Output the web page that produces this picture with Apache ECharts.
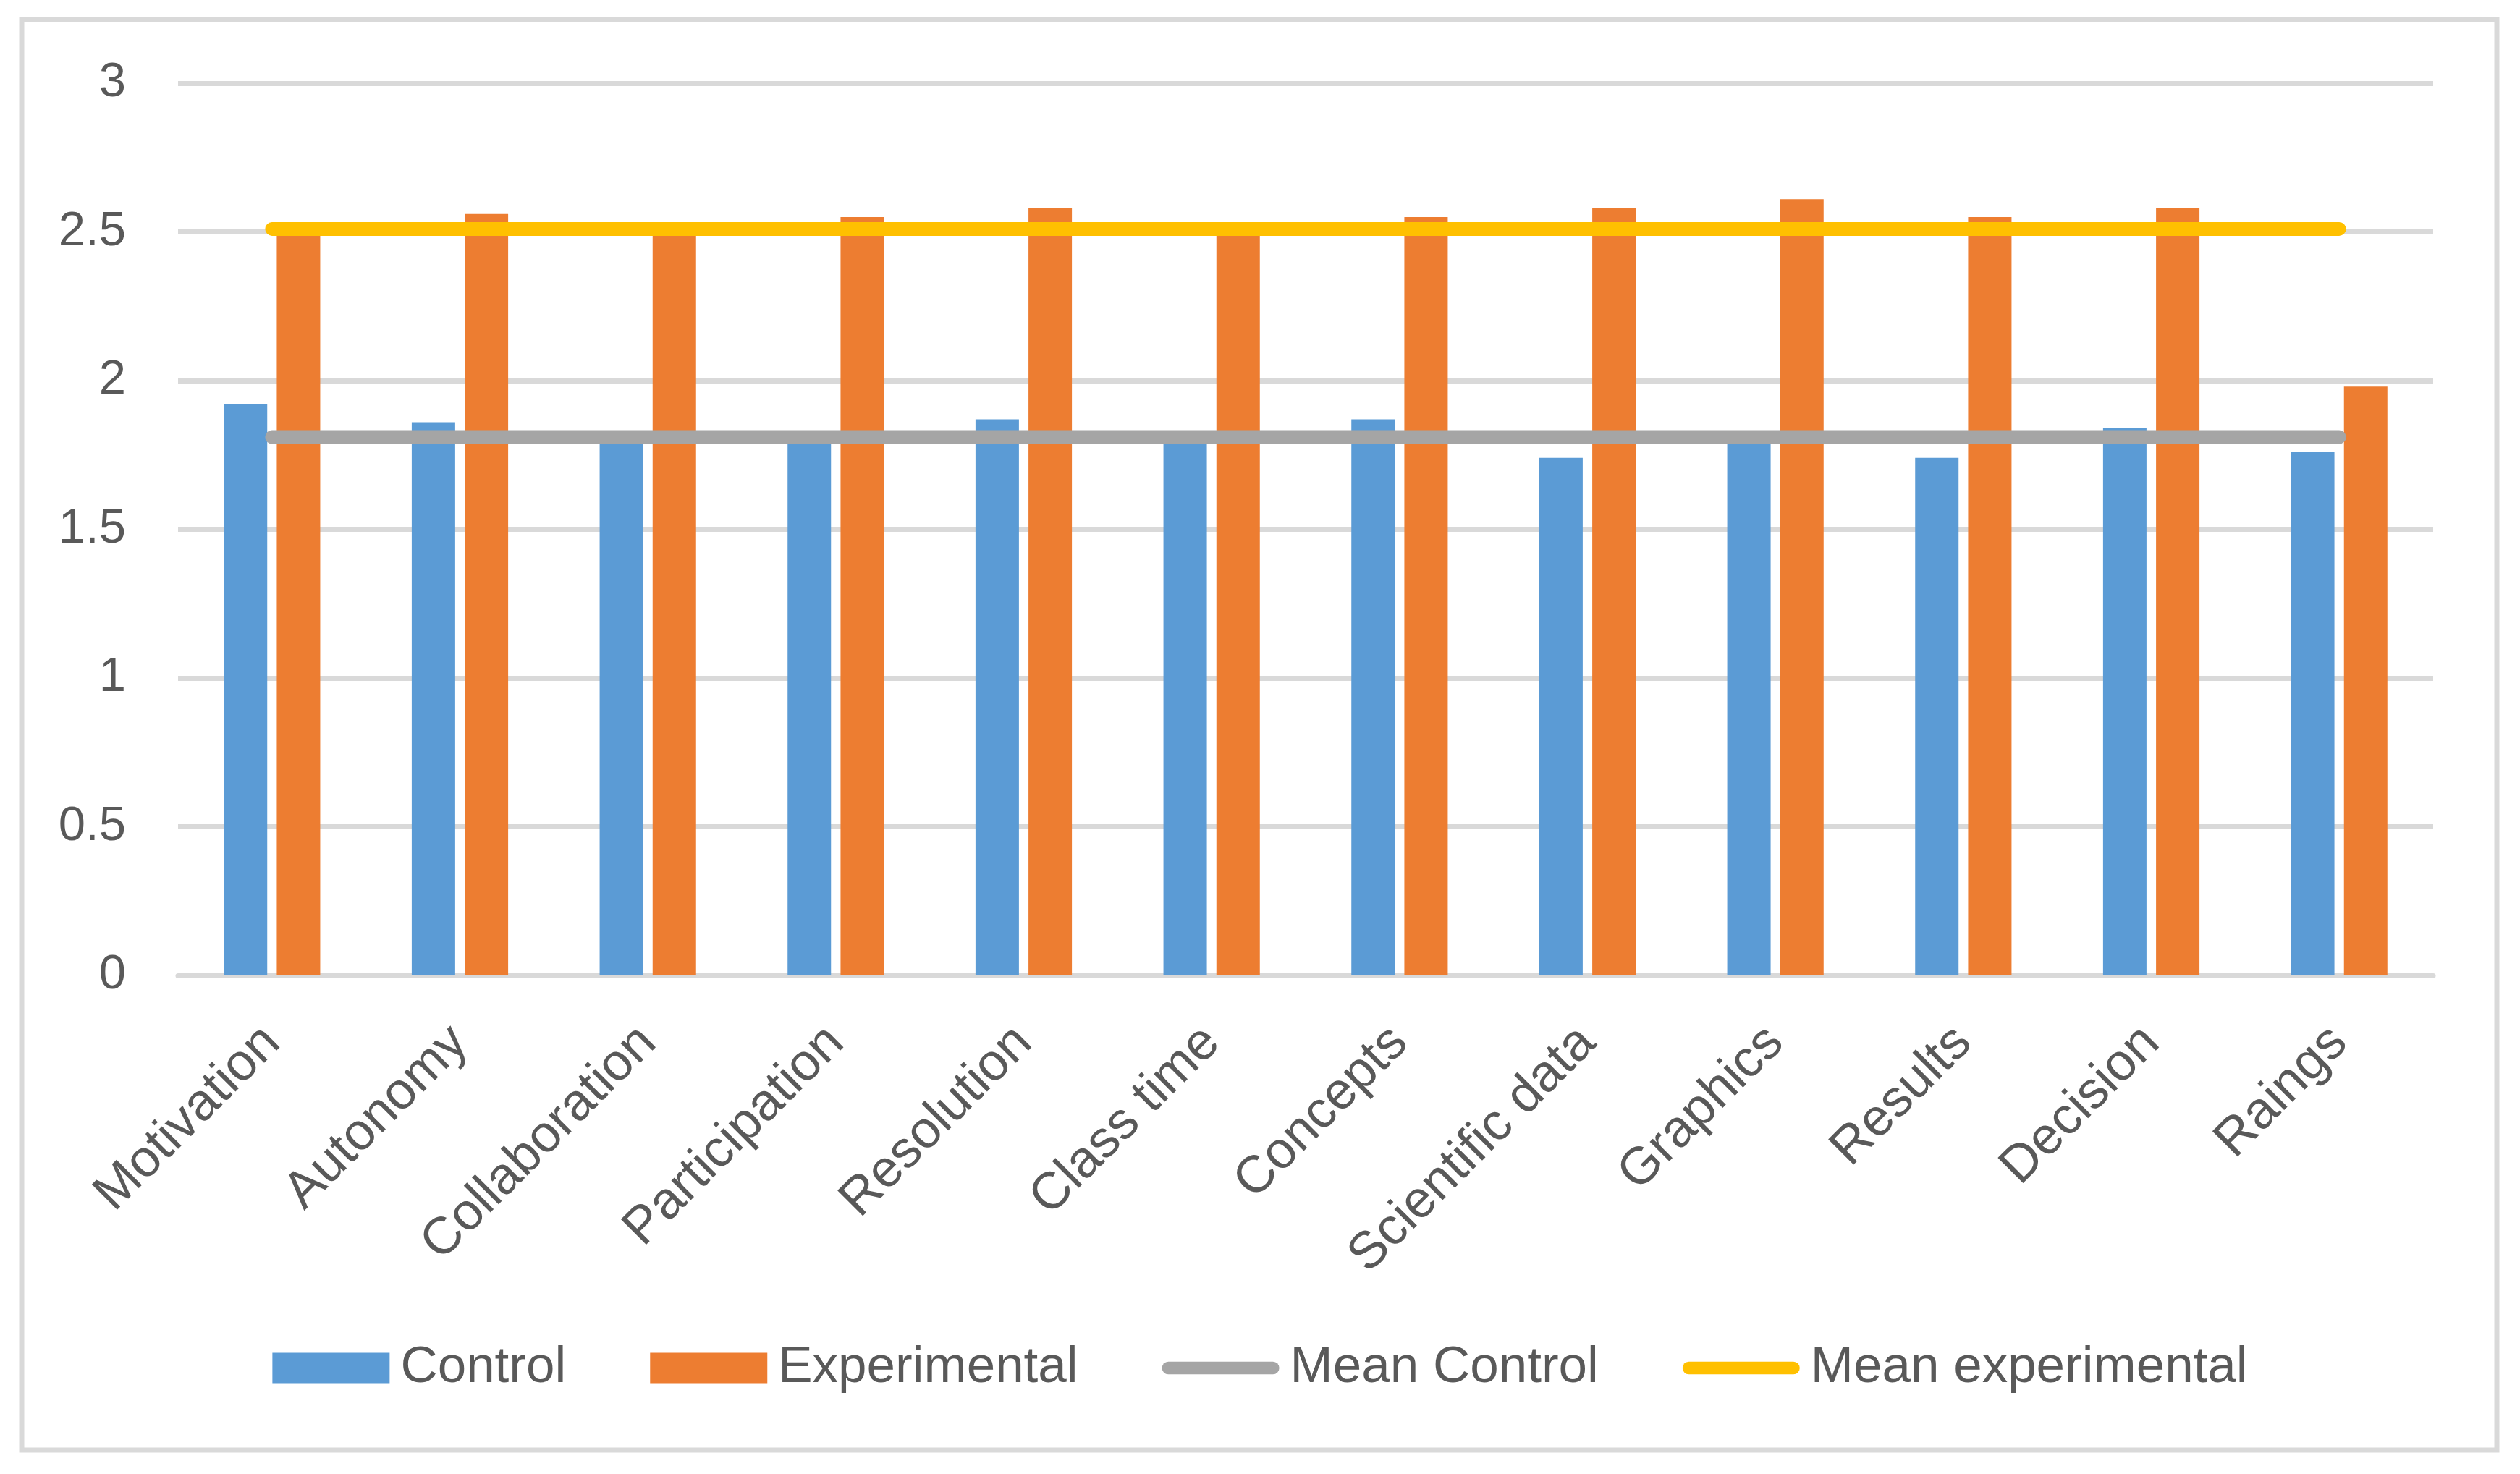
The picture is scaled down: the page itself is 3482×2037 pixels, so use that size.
<!DOCTYPE html>
<html>
<head>
<meta charset="utf-8">
<script src="https://cdn.jsdelivr.net/npm/echarts@6/dist/echarts.min.js"></script>
<style>
html,body{margin:0;padding:0;background:#fff;}
#chart{width:3482px;height:2037px;}
</style>
</head>
<body>
<div id="chart"></div>
<script>
const categories = ['Motivation','Autonomy','Collaboration','Participation','Resolution','Class time','Concepts','Scientific data','Graphics','Results','Decision','Raings'];
const control = [1.92,1.86,1.80,1.80,1.87,1.80,1.87,1.74,1.80,1.74,1.84,1.76];
const experimental = [2.51,2.56,2.51,2.55,2.58,2.51,2.55,2.58,2.61,2.55,2.58,1.98];
const meanControl = [1.81,1.81,1.81,1.81,1.81,1.81,1.81,1.81,1.81,1.81,1.81,1.81];
const meanExperimental = [2.51,2.51,2.51,2.51,2.51,2.51,2.51,2.51,2.51,2.51,2.51,2.51];
const yTicks = ['0','0.5','1','1.5','2','2.5','3'];

const FONT = '"Liberation Sans", Arial, sans-serif';
const TXT = '#595959';
const capsule = 'path://M9.5,0 H166.5 A9.5,9.5 0 0 1 166.5,19 H9.5 A9.5,9.5 0 0 1 9.5,0 Z';

const chart = echarts.init(document.getElementById('chart'));
chart.setOption({
  backgroundColor: '#ffffff',
  animation: false,
  textStyle: { fontFamily: FONT },
  graphic: [{
    type: 'rect',
    shape: { x: 30, y: 27, width: 3420, height: 1977 },
    style: { fill: 'none', stroke: '#d9d9d9', lineWidth: 7 },
    z: -10
  }],
  grid: { left: 246, right: 120, top: 115, bottom: 689, containLabel: false },
  legend: {
    left: 'center',
    top: 1850,
    itemWidth: 162,
    itemHeight: 42,
    itemGap: 116,
    textStyle: { color: TXT, fontSize: 71, fontFamily: FONT, padding: [0, 0, 0, 10] },
    data: [
      { name: 'Control', icon: 'rect' },
      { name: 'Experimental', icon: 'rect' },
      { name: 'Mean Control', icon: capsule },
      { name: 'Mean experimental', icon: capsule }
    ]
  },
  xAxis: {
    type: 'category',
    data: categories,
    boundaryGap: true,
    axisLine: { lineStyle: { color: '#d9d9d9', width: 7 } },
    axisTick: { show: false },
    axisLabel: { rotate: 45, color: TXT, fontSize: 72, fontFamily: FONT, margin: 82, interval: 0 }
  },
  yAxis: {
    type: 'value',
    min: 0, max: 3, interval: 0.5,
    axisLine: { show: false },
    axisTick: { show: false },
    splitLine: { lineStyle: { color: '#d9d9d9', width: 7 } },
    axisLabel: {
      color: TXT, fontSize: 67, fontFamily: FONT, margin: 72,
      formatter: function (v) { const i = Math.round(v / 0.5); return yTicks[i] !== undefined ? yTicks[i] : String(v); }
    }
  },
  series: [
    { name: 'Control', type: 'bar', data: control, barWidth: 60, barGap: '22%', itemStyle: { color: '#5b9bd5' } },
    { name: 'Experimental', type: 'bar', data: experimental, barWidth: 60, barGap: '22%', itemStyle: { color: '#ed7d31' } },
    { name: 'Mean Control', type: 'line', data: meanControl, symbol: 'none', itemStyle: { color: '#a5a5a5' },
      lineStyle: { color: '#a5a5a5', width: 19, cap: 'round' }, z: 5 },
    { name: 'Mean experimental', type: 'line', data: meanExperimental, symbol: 'none', itemStyle: { color: '#ffc000' },
      lineStyle: { color: '#ffc000', width: 19, cap: 'round' }, z: 5 }
  ]
});
</script>
</body>
</html>
